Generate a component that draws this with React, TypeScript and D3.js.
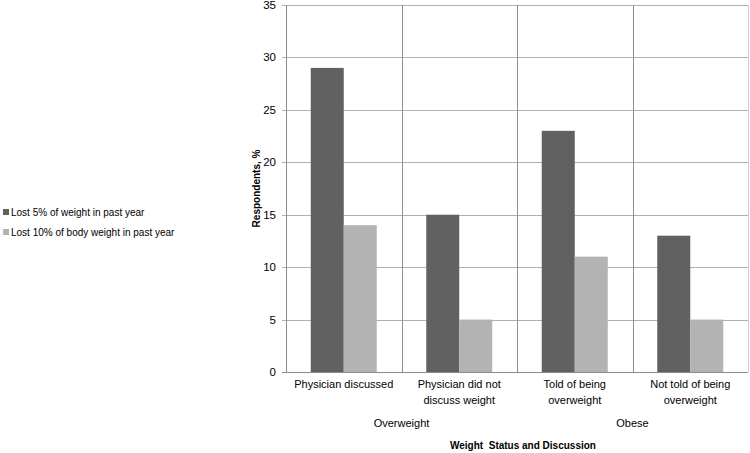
import * as d3 from 'd3'
import { useEffect, useRef } from 'react'

const categories = [
  ['Physician discussed'],
  ['Physician did not', 'discuss weight'],
  ['Told of being', 'overweight'],
  ['Not told of being', 'overweight'],
]
const groups = ['Overweight', 'Obese']
const seriesNames = ['Lost 5% of weight in past year', 'Lost 10% of body weight in past year']
const lost5 = [29, 15, 23, 13]
const lost10 = [14, 5, 11, 5]
const yTicks = [0, 5, 10, 15, 20, 25, 30, 35]

const W = 750
const H = 453
const plot = { left: 286, right: 748, top: 5, bottom: 372 }
const colors = ['#616161', '#b3b3b3']
const font = '"Liberation Sans", Arial, sans-serif'

export default function App() {
  const ref = useRef<SVGSVGElement>(null)

  useEffect(() => {
    const svg = d3.select(ref.current)
    svg.selectAll('*').remove()
    svg.style('font-family', font)

    const idx = categories.map((_, i) => i)
    const x = d3.scaleBand<number>().domain(idx).range([plot.left, plot.right])
    const x1 = d3.scaleBand<number>().domain([0, 1]).range([0, x.bandwidth()]).paddingOuter(0.75).paddingInner(0)
    const y = d3.scaleLinear().domain([0, 35]).range([plot.bottom, plot.top])

    // horizontal gridlines
    svg.append('g')
      .selectAll('line')
      .data(yTicks.filter((t) => t > 0))
      .join('line')
      .attr('x1', plot.left - 4)
      .attr('x2', plot.right)
      .attr('y1', (d) => Math.round(y(d)) + 0.5)
      .attr('y2', (d) => Math.round(y(d)) + 0.5)
      .attr('stroke', '#b0b0b0')

    // vertical separators
    svg.append('g')
      .selectAll('line')
      .data(idx.slice(1))
      .join('line')
      .attr('x1', (d) => Math.round(x(d)!) + 0.5)
      .attr('x2', (d) => Math.round(x(d)!) + 0.5)
      .attr('y1', plot.top)
      .attr('y2', plot.bottom)
      .attr('stroke', '#8c8c8c')

    svg.append('line')
      .attr('x1', plot.right + 0.5).attr('x2', plot.right + 0.5)
      .attr('y1', plot.top).attr('y2', plot.bottom)
      .attr('stroke', '#cfcfcf')

    // bars
    const series = [lost5, lost10]
    series.forEach((vals, s) => {
      svg.append('g')
        .selectAll('rect')
        .data(vals)
        .join('rect')
        .attr('x', (_, i) => x(i)! + x1(s)!)
        .attr('width', x1.bandwidth())
        .attr('y', (d) => y(d))
        .attr('height', (d) => y(0) - y(d))
        .attr('fill', colors[s])
    })

    // axes lines
    svg.append('line')
      .attr('x1', plot.left + 0.5).attr('x2', plot.left + 0.5)
      .attr('y1', plot.top).attr('y2', plot.bottom)
      .attr('stroke', '#8c8c8c')
    svg.append('line')
      .attr('x1', plot.left - 4).attr('x2', plot.right)
      .attr('y1', plot.bottom + 0.5).attr('y2', plot.bottom + 0.5)
      .attr('stroke', '#8c8c8c')

    // y tick labels
    svg.append('g')
      .selectAll('text')
      .data(yTicks)
      .join('text')
      .attr('x', plot.left - 10)
      .attr('y', (d) => y(d) + 4)
      .attr('text-anchor', 'end')
      .attr('font-size', 11.5)
      .attr('fill', '#000')
      .text((d) => d)

    // y title
    svg.append('text')
      .attr('transform', `translate(260, ${(plot.top + plot.bottom) / 2}) rotate(-90)`)
      .attr('text-anchor', 'middle')
      .attr('font-size', 10)
      .attr('font-weight', 'bold')
      .text('Respondents, %')

    // category labels
    const cat = svg.append('g')
    categories.forEach((lines, i) => {
      lines.forEach((l, j) => {
        cat.append('text')
          .attr('x', x(i)! + x.bandwidth() / 2)
          .attr('y', 388 + j * 16)
          .attr('text-anchor', 'middle')
          .attr('font-size', 11)
          .text(l)
      })
    })

    // group labels
    groups.forEach((g, gi) => {
      svg.append('text')
        .attr('x', x(gi * 2 + 1)!)
        .attr('y', 427)
        .attr('text-anchor', 'middle')
        .attr('font-size', 11)
        .text(g)
    })

    svg.append('text')
      .attr('x', 523)
      .attr('y', 449)
      .attr('text-anchor', 'middle')
      .attr('font-size', 10)
      .attr('font-weight', 'bold')
      .attr('xml:space', 'preserve')
      .text('Weight  Status and Discussion')

    // legend
    const leg = svg.append('g')
    seriesNames.forEach((n, i) => {
      leg.append('rect')
        .attr('x', 3).attr('y', 209 + i * 20)
        .attr('width', 6).attr('height', 6)
        .attr('fill', colors[i])
      leg.append('text')
        .attr('x', 11).attr('y', 216 + i * 20)
        .attr('font-size', 10)
        .text(n)
    })
  }, [])

  return (
    <svg
      ref={ref}
      width={W}
      height={H}
      style={{ position: 'absolute', left: 0, top: 0, background: '#fff' }}
    />
  )
}
